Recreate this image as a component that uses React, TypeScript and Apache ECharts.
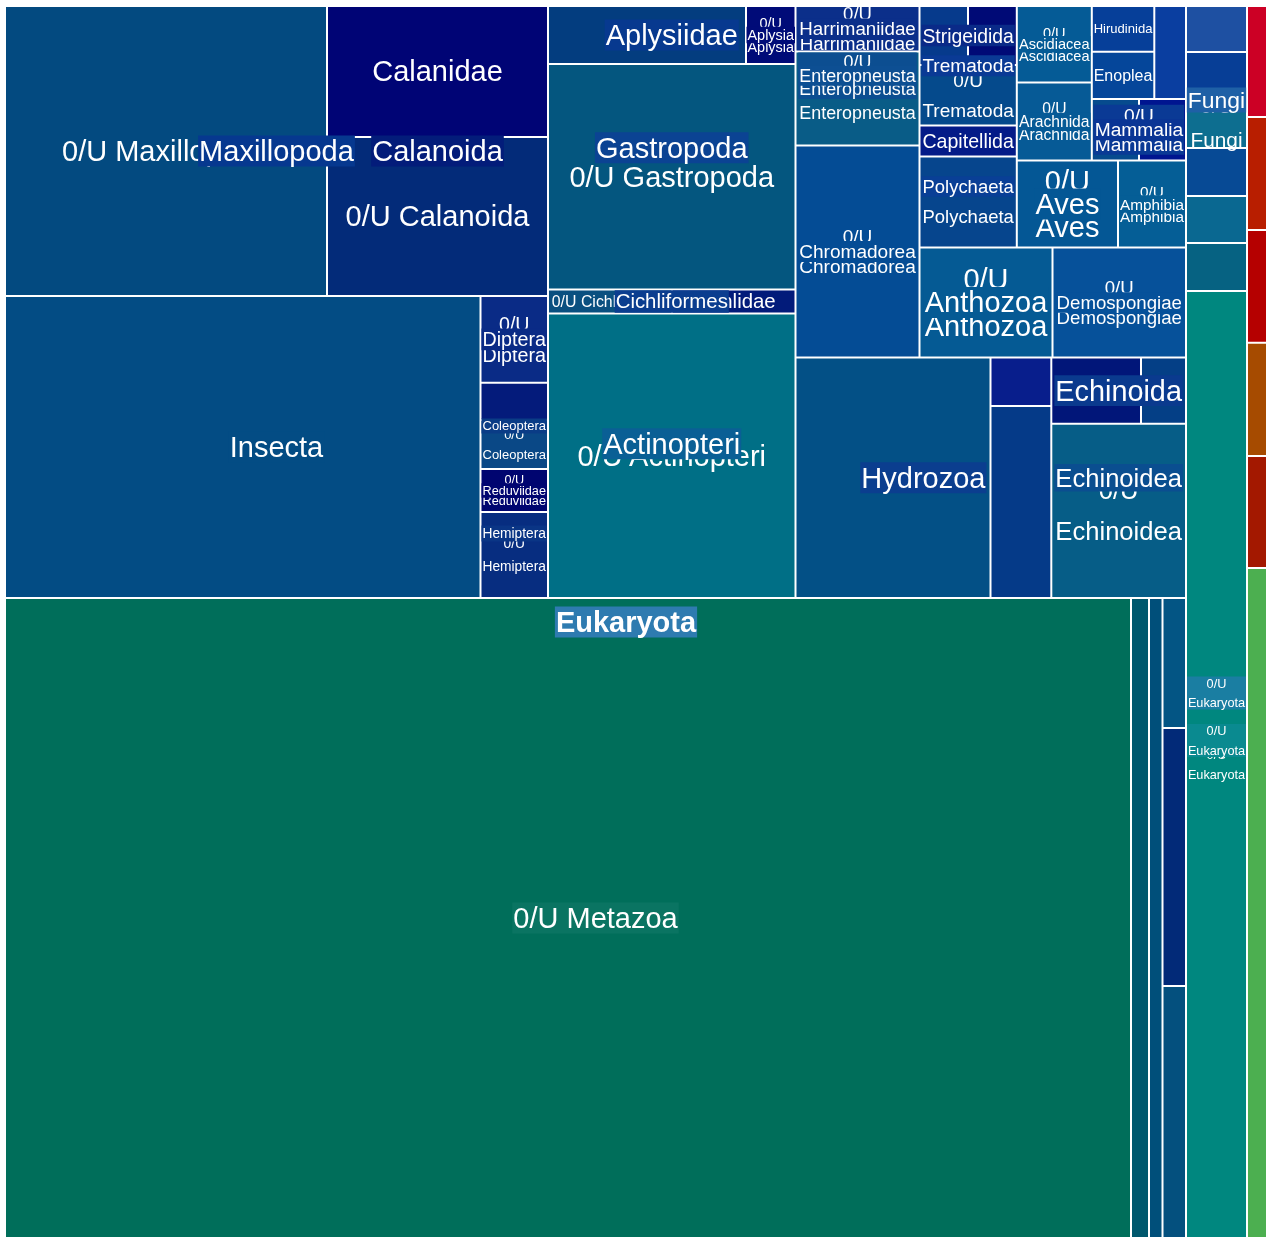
import React, { useEffect, useRef } from "react";
import * as echarts from "echarts";

// ---------- data ----------
// Hierarchy as leaf paths (">" separates levels). Names starting with "~" are
// unlabeled cells: layout groups or a taxon's own (unassigned) share.
const E = "Eukaryota";
const M = "Eukaryota>Metazoa";
const T = M + ">~top";
const R = T + ">~mid>~right";
const U = R + ">~upper>~u2";
const B = M + ">0/U Metazoa";

const leafPaths: string[] = [
  `${T}>Maxillopoda>0/U Maxillopoda`,
  `${T}>Maxillopoda>Calanoida>Calanidae`,
  `${T}>Maxillopoda>Calanoida>0/U Calanoida`,
  `${T}>Insecta>~Insecta`,
  `${T}>Insecta>Diptera>0/U Diptera`,
  `${T}>Insecta>Coleoptera>Curculionidae`,
  `${T}>Insecta>Coleoptera>0/U Coleoptera`,
  `${T}>Insecta>Hemiptera>Reduviidae>0/U Reduviidae`,
  `${T}>Insecta>Hemiptera>0/U Hemiptera`,
  `${T}>~mid>~mg>Gastropoda>Aplysiidae>~Aplysiidae`,
  `${T}>~mid>~mg>Gastropoda>Aplysiidae>Aplysia>0/U Aplysia`,
  `${T}>~mid>~mg>Gastropoda>0/U Gastropoda`,
  `${T}>~mid>~mg>Actinopteri>Cichliformes>0/U Cichliformes`,
  `${T}>~mid>~mg>Actinopteri>Cichliformes>Cichlidae`,
  `${T}>~mid>~mg>Actinopteri>0/U Actinopteri`,
  `${R}>~upper>~ec>Enteropneusta>0/U Enteropneusta>Harrimaniidae>0/U Harrimaniidae`,
  `${R}>~upper>~ec>Enteropneusta>0/U Enteropneusta>0/U Enteropneusta`,
  `${R}>~upper>~ec>Chromadorea>0/U Chromadorea`,
  `${U}>~u2a>~tp>Trematoda>Strigeidida>~Strigeidida`,
  `${U}>~u2a>~tp>Trematoda>Strigeidida>Strigeidae`,
  `${U}>~u2a>~tp>Trematoda>0/U Trematoda`,
  `${U}>~u2a>~tp>Polychaeta>Capitellida`,
  `${U}>~u2a>~tp>Polychaeta>0/U Polychaeta`,
  `${U}>~u2a>~u2c>~u2d>~aa>Ascidiacea>0/U Ascidiacea`,
  `${U}>~u2a>~u2c>~u2d>~aa>Arachnida>0/U Arachnida`,
  `${U}>~u2a>~u2c>~u2d>~u2f>~u2g>~he>Hirudinida`,
  `${U}>~u2a>~u2c>~u2d>~u2f>~u2g>~he>Enoplea`,
  `${U}>~u2a>~u2c>~u2d>~u2f>~u2g>Bdelloidea`,
  `${U}>~u2a>~u2c>~u2d>~u2f>Mammalia>0/U Mammalia>Primates`,
  `${U}>~u2a>~u2c>~u2d>~u2f>Mammalia>0/U Mammalia>Rodentia`,
  `${U}>~u2a>~u2c>~u2e>Aves>0/U Aves`,
  `${U}>~u2a>~u2c>~u2e>Amphibia>0/U Amphibia`,
  `${U}>~u2b>Anthozoa>0/U Anthozoa`,
  `${U}>~u2b>Demospongiae>0/U Demospongiae`,
  `${R}>~lower>Hydrozoa>~Hydrozoa`,
  `${R}>~lower>Hydrozoa>Leptothecata`,
  `${R}>~lower>Hydrozoa>Anthoathecata`,
  `${R}>~lower>Echinoidea>Echinoida>~Echinoida`,
  `${R}>~lower>Echinoidea>Echinoida>Strongylocentrotidae`,
  `${R}>~lower>Echinoidea>0/U Echinoidea`,
  `${B}>~b1>~b0>~0/U Metazoa`,
  `${B}>~b1>~b0>Malacostraca`,
  `${B}>~b1>Bivalvia`,
  `${B}>~s3>Asteroidea`,
  `${B}>~s3>Ophiuroidea`,
  `${B}>~s3>Holothuroidea`,
  `${E}>Viridiplantae`,
  `${E}>Fungi>Basidiomycota`,
  `${E}>Fungi>0/U Fungi`,
  `${E}>0/U Eukaryota>Stramenopiles`,
  `${E}>0/U Eukaryota>Apicomplexa`,
  `${E}>0/U Eukaryota>0/U Eukaryota>Rhodophyta`,
  `${E}>0/U Eukaryota>0/U Eukaryota>0/U Eukaryota`,
  `Bacteria`,
  `Archaea`,
  `Viruses`,
  `other entries`,
  `unclassified entries`,
  `0/U root`,
];

const leafValues: number[] = [
  93380, 28951, 35139,
  143601, 5859, 2511, 3308, 2903, 5805,
  11484, 2871, 55811,
  2976, 2964, 70414,
  5642, 11656, 26288,
  2862, 2879, 5887, 3016, 8854,
  5738, 5850, 2856, 2956, 2948, 2903, 2891, 8804, 5916,
  14630, 14685,
  46898, 2949, 11674,
  5947, 2984, 23465,
  720640, 11520, 8640, 3055, 6063, 5922,
  2806, 2745, 3111, 2928, 2867, 2928, 57767,
  2220, 2260, 2254, 2266, 2240, 13400,
];

// ---------- styles ----------
// keyed by full path first, then by name
const nodeColors: Record<string, string> = {
  "0/U Maxillopoda": "#034a80", "Calanidae": "#000475", "0/U Calanoida": "#032b79",
  "~Insecta": "#034c84", "0/U Diptera": "#0a2b86", "Curculionidae": "#041b7b",
  "0/U Coleoptera": "#0a4886", "0/U Reduviidae": "#000570", "0/U Hemiptera": "#072d80",
  "~Aplysiidae": "#033d7f", "0/U Aplysia": "#000b78", "0/U Gastropoda": "#04567f",
  "0/U Cichliformes": "#0a5080", "Cichlidae": "#021b7a", "0/U Actinopteri": "#006f86",
  "0/U Harrimaniidae": "#0b2f8a", "0/U Enteropneusta": "#095c87", "0/U Chromadorea": "#044c95",
  "~Strigeidida": "#063a8c", "Strigeidae": "#000a76", "0/U Trematoda": "#054a8c",
  "Capitellida": "#041b88", "0/U Polychaeta": "#06458d",
  "0/U Ascidiacea": "#055b96", "0/U Arachnida": "#065a96", "Hirudinida": "#063f99",
  "Enoplea": "#05469a", "Bdelloidea": "#0a3ea0", "Primates": "#064b8e", "Rodentia": "#001590",
  "0/U Aves": "#045795", "0/U Amphibia": "#055e96", "0/U Anthozoa": "#055a94",
  "0/U Demospongiae": "#06519a", "~Hydrozoa": "#035086", "Leptothecata": "#081e8c",
  "Anthoathecata": "#053a88", "~Echinoida": "#011679", "Strongylocentrotidae": "#043f86",
  "0/U Echinoidea": "#065d87", "~0/U Metazoa": "#006e5a", "Malacostraca": "#00586d",
  "Bivalvia": "#004f7a", "Asteroidea": "#035584", "Ophiuroidea": "#022a78", "Holothuroidea": "#04507e",
  "Viridiplantae": "#1e50a2", "Basidiomycota": "#073e96", "0/U Fungi": "#0d6e90",
  "Stramenopiles": "#074a95", "Apicomplexa": "#0a6891", "Rhodophyta": "#066282",
  "0/U Eukaryota": "#00877f",
  "Bacteria": "#cc0025", "Archaea": "#b81e00", "Viruses": "#b50000",
  "other entries": "#a64b00", "unclassified entries": "#a31800", "0/U root": "#4caf50",
  // parent label backgrounds
  "Eukaryota": "#2e7bb0", "Maxillopoda": "#06388f", "Calanoida": "#031c7a", "Insecta": "#034c84",
  "Diptera": "#0a2b86", "Coleoptera": "#0a3c86", "Hemiptera": "#0a3585", "Reduviidae": "#000570",
  "Gastropoda": "#0b4393", "Aplysiidae": "#07398f", "Aplysia": "#000b78", "Actinopteri": "#0a5f95",
  "Cichliformes": "#0b3d8f", "Enteropneusta": "#0d4f93", "Harrimaniidae": "#0b2f8a",
  "Chromadorea": "#044c95", "Trematoda": "#0a3a95", "Strigeidida": "#0a2a88", "Polychaeta": "#093f96",
  "Ascidiacea": "#055b96", "Arachnida": "#065a96", "Mammalia": "#0a3595", "Aves": "#045795",
  "Amphibia": "#055e96", "Anthozoa": "#055a94", "Demospongiae": "#06519a", "Hydrozoa": "#0b3e8f",
  "Echinoidea": "#0a4e90", "Echinoida": "#0a3a8e", "Fungi": "#1e60a6",
  [B]: "#0a7462",
  [`${E}>0/U Eukaryota`]: "#1a7ea2",
  [`${E}>0/U Eukaryota>0/U Eukaryota`]: "#0a8a90",
  [`${R}>~upper>~ec>Enteropneusta>0/U Enteropneusta`]: "#0c4e91",
  [`${U}>~u2a>~u2c>~u2d>~u2f>Mammalia>0/U Mammalia`]: "#0a3a95",
};
const hiddenParentLabels = ["Metazoa"];
const boldLabels = ["Eukaryota"];

const FONT = '"Liberation Sans", Arial, Helvetica, sans-serif';
const W = 1262;
const H = 1232;
const MAX_FS = 29;
const MIN_FS = 11.5;

type TNode = {
  name: string; path: string; value: number; children: TNode[];
  x0: number; y0: number; x1: number; y1: number; depth: number;
};

const colorOf = (n: TNode) => nodeColors[n.path] || nodeColors[n.name] || "#034a80";

function buildTree(): TNode {
  const mk = (name: string, path: string, depth: number): TNode =>
    ({ name, path, value: 0, children: [], x0: 0, y0: 0, x1: 0, y1: 0, depth });
  const root = mk("root", "", 0);
  leafPaths.forEach((p, i) => {
    let cur = root;
    p.split(">").forEach((nm, d) => {
      let ch = cur.children.find((c) => c.name === nm);
      if (!ch) { ch = mk(nm, cur.path ? cur.path + ">" + nm : nm, d + 1); cur.children.push(ch); }
      cur = ch;
    });
    cur.value = leafValues[i];
  });
  const sum = (n: TNode): number => {
    if (n.children.length) n.value = n.children.reduce((s, c) => s + sum(c), 0);
    return n.value;
  };
  sum(root);
  return root;
}

// binary treemap tiling (keeps input order, splits by value at the midpoint)
function binaryLayout(node: TNode, x0: number, y0: number, x1: number, y1: number) {
  node.x0 = x0; node.y0 = y0; node.x1 = x1; node.y1 = y1;
  const nodes = node.children;
  const n = nodes.length;
  if (!n) return;
  const sums = [0];
  for (let i = 0; i < n; i++) sums.push(sums[i] + nodes[i].value);
  const partition = (i: number, j: number, value: number, a0: number, b0: number, a1: number, b1: number) => {
    if (i >= j - 1) { binaryLayout(nodes[i], a0, b0, a1, b1); return; }
    const off = sums[i];
    const target = value / 2 + off;
    let k = i + 1, hi = j - 1;
    while (k < hi) { const mid = (k + hi) >>> 1; if (sums[mid] < target) k = mid + 1; else hi = mid; }
    if (target - sums[k - 1] < sums[k] - target && i + 1 < k) --k;
    const vl = sums[k] - off, vr = value - vl;
    if (a1 - a0 > b1 - b0) {
      const xk = value ? (a0 * vr + a1 * vl) / value : a1;
      partition(i, k, vl, a0, b0, xk, b1); partition(k, j, vr, xk, b0, a1, b1);
    } else {
      const yk = value ? (b0 * vr + b1 * vl) / value : b1;
      partition(i, k, vl, a0, b0, a1, yk); partition(k, j, vr, a0, yk, a1, b1);
    }
  };
  partition(0, n, node.value, x0, y0, x1, y1);
}

type Label = {
  cx: number; cy: number; lines: string[]; offs: number[]; fs: number; bg?: string; bold: boolean;
  box?: number[]; // [x0, y0, x1, y1] background block for wrapped parent labels
};

export default function App() {
  const ref = useRef<HTMLDivElement>(null);
  useEffect(() => {
    if (!ref.current) return;
    const ctx = document.createElement("canvas").getContext("2d")!;
    const em = (t: string, bold = false) => { ctx.font = `${bold ? "bold " : ""}100px ${FONT}`; return ctx.measureText(t).width / 100; };

    const root = buildTree();
    binaryLayout(root, 0, 0, W, H);
    const leaves: TNode[] = [];
    const parents: TNode[] = [];
    const walk = (n: TNode) => n.children.forEach((c) => {
      if (c.children.length) { parents.push(c); walk(c); } else leaves.push(c);
    });
    walk(root);

    // font size: fit width (and height); "0/U X" may wrap onto two lines
    const fit = (name: string, w: number, h: number, bold: boolean) => {
      const one = Math.min(MAX_FS, (0.94 * w) / em(name, bold), 0.85 * h);
      if (name.startsWith("0/U ")) {
        const rest = name.slice(4);
        const fw = Math.min(MAX_FS, (0.94 * w) / Math.max(em("0/U", bold), em(rest, bold)), h / 2.45);
        if (fw > one) return { lines: ["0/U", rest], fs: fw };
      }
      return { lines: [name], fs: one };
    };

    const leafLabels: Label[] = [];
    leaves.forEach((l) => {
      if (l.name.startsWith("~")) return;
      const w = l.x1 - l.x0, h = l.y1 - l.y0;
      const f = fit(l.name, w, h, false);
      if (f.fs < MIN_FS) return;
      leafLabels.push({
        cx: (l.x0 + l.x1) / 2, cy: (l.y0 + l.y1) / 2, lines: f.lines,
        offs: f.lines.length > 1 ? [-0.8 * f.fs, 0.8 * f.fs] : [0], fs: f.fs, bold: false,
      });
    });

    const parentLabels: Label[] = [];
    parents
      .filter((p) => !p.name.startsWith("~") && hiddenParentLabels.indexOf(p.name) < 0)
      .sort((a, b) => b.depth - a.depth)
      .forEach((p) => {
        const w = p.x1 - p.x0, h = p.y1 - p.y0;
        const bold = boldLabels.indexOf(p.name) >= 0;
        const f = fit(p.name, w, h, bold);
        if (f.fs < MIN_FS) return;
        const cx = (p.x0 + p.x1) / 2, cy = (p.y0 + p.y1) / 2;
        if (f.lines.length > 1) {
          const tw = Math.max(...f.lines.map((t) => em(t, bold) * f.fs)) + 2;
          const hh = 1.3 * f.fs;
          parentLabels.push({
            cx, cy, lines: f.lines, offs: [-0.75 * f.fs, 0.75 * f.fs], fs: f.fs, bold,
            box: [Math.max(p.x0 + 1, cx - tw / 2), Math.max(p.y0 + 1, cy - hh), Math.min(p.x1 - 1, cx + tw / 2), Math.min(p.y1 - 1, cy + hh)],
            bg: colorOf(p),
          });
        } else {
          parentLabels.push({ cx, cy, lines: f.lines, offs: [0], fs: f.fs, bg: colorOf(p), bold });
        }
      });

    const textItems = (labels: Label[]) => (params: any, api: any) => {
      const L = labels[params.dataIndex];
      const p = api.coord([api.value(0), api.value(1)]);
      const children: any[] = [];
      if (L.box && L.bg) {
        const a = api.coord([L.box[0], L.box[1]]);
        const b = api.coord([L.box[2], L.box[3]]);
        children.push({ type: "rect", shape: { x: a[0], y: a[1], width: b[0] - a[0], height: b[1] - a[1] }, style: { fill: L.bg } });
      }
      const inlineBg = L.box ? undefined : L.bg;
      L.lines.forEach((t, i) => children.push({
        type: "text",
        x: p[0],
        y: p[1] + L.offs[i],
        style: {
          text: t, fill: "#ffffff", fontSize: L.fs, fontFamily: FONT,
          fontWeight: L.bold ? "bold" : "normal",
          align: "center", verticalAlign: "middle",
          textAlign: "center", textVerticalAlign: "middle",
          lineHeight: L.fs,
          backgroundColor: inlineBg, padding: inlineBg ? [1, 1] : 0,
        },
      }));
      return { type: "group", children };
    };

    const chart = echarts.init(ref.current, null, { renderer: "svg" });
    chart.setOption({
      animation: false,
      grid: { left: 5, top: 6, width: W, height: H },
      xAxis: { type: "value", min: 0, max: W, show: false },
      yAxis: { type: "value", min: 0, max: H, inverse: true, show: false },
      series: [
        {
          type: "custom", silent: true, z: 2,
          encode: { x: [0, 2], y: [1, 3] },
          data: leaves.map((l) => [l.x0, l.y0, l.x1, l.y1]),
          renderItem: (params: any, api: any) => {
            const a = api.coord([api.value(0), api.value(1)]);
            const b = api.coord([api.value(2), api.value(3)]);
            return {
              type: "rect",
              shape: { x: a[0] + 1, y: a[1] + 1, width: Math.max(0, b[0] - a[0] - 2), height: Math.max(0, b[1] - a[1] - 2) },
              style: { fill: colorOf(leaves[params.dataIndex]) },
            };
          },
        },
        {
          type: "custom", silent: true, z: 3,
          encode: { x: 0, y: 1 },
          data: leafLabels.map((l) => [l.cx, l.cy]),
          renderItem: textItems(leafLabels),
        },
        {
          type: "custom", silent: true, z: 4,
          encode: { x: 0, y: 1 },
          data: parentLabels.map((l) => [l.cx, l.cy]),
          renderItem: textItems(parentLabels),
        },
      ],
    });
    return () => chart.dispose();
  }, []);
  return <div ref={ref} style={{ position: "fixed", left: 0, top: 0, width: 1267, height: 1238 }} />;
}
